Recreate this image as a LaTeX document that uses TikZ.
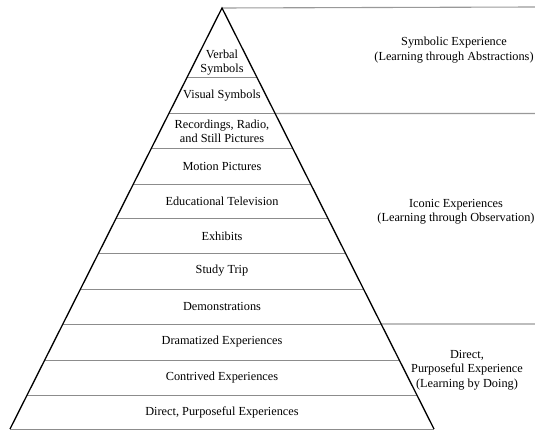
\documentclass[tikz,border=0pt]{standalone}
\usepackage{fontspec}
\setmainfont{Liberation Serif}
\usetikzlibrary{
  calc
}

\begin{document}
\begin{tikzpicture}[
  x=1pt, y=-1pt,
  divider/.style={draw=black!45, line width=0.8pt},
  band/.style={draw=black!40, line width=1.1pt},
  side/.style={draw=black, line width=1.3pt},
  tier/.style={align=center, inner sep=0pt, font=\fontsize{12.3}{14}\selectfont},
  group/.style={align=center, inner sep=0pt, font=\fontsize{12.3}{14.5}\selectfont},
]
\useasboundingbox (0,0) rectangle (535,430);
\coordinate (apex) at (222,8);
\coordinate (base-l) at (10,429);
\coordinate (base-r) at (434,429);
\coordinate (top-e) at (535,7);
% dividers between the tiers
\foreach \y/\n in {77/1,113.5/2,148.5/3,184/4,218.5/5,253.5/6,289/7,324/8,360/9,395/10} {
  \coordinate (div-\n-l) at ($(apex)!{(\y-8)/421}!(base-l)$);
  \coordinate (div-\n-r) at ($(apex)!{(\y-8)/421}!(base-r)$);
  \draw[divider] (div-\n-l) -- (div-\n-r);
}
\coordinate (band-1-e) at (535,113.5);
\coordinate (band-2-e) at (535,324);
\draw[band] (apex) -- (top-e);
\draw[band] (div-2-r) -- (band-1-e);
\draw[band] (div-8-r) -- (band-2-e);
\draw[divider] (base-l) -- (base-r);
\draw[side] (base-l) -- (apex) -- (base-r);
% tier labels
\node[tier] (verbal) at (222,63) {Verbal\\Symbols};
\node[tier] (visual) at (222,95.5) {Visual Symbols};
\node[tier] (recordings) at (222,131) {Recordings, Radio,\\and Still Pictures};
\node[tier] (motion) at (222,166) {Motion Pictures};
\node[tier] (television) at (222,201) {Educational Television};
\node[tier] (exhibits) at (222,236) {Exhibits};
\node[tier] (trip) at (222,271) {Study Trip};
\node[tier] (demos) at (222,306.5) {Demonstrations};
\node[tier] (dramatized) at (222,342) {Dramatized Experiences};
\node[tier] (contrived) at (222,377.5) {Contrived Experiences};
\node[tier] (direct) at (222,412) {Direct, Purposeful Experiences};
% groups on the right
\node[group] (symbolic) at (454,50) {Symbolic Experience\\(Learning through Abstractions)};
\node[group] (iconic) at (456,212) {Iconic Experiences\\(Learning through Observation)};
\node[group] (doing) at (467,370) {Direct,\\Purposeful Experience\\(Learning by Doing)};
\end{tikzpicture}
\end{document}
